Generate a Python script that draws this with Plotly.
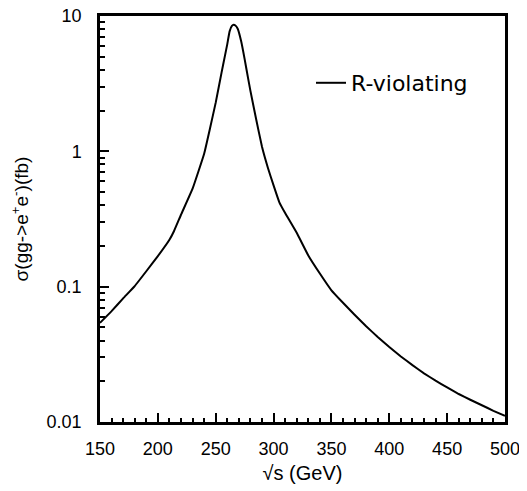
import plotly.graph_objects as go

sqrt_s = [150, 160, 170, 180, 190, 200, 210, 214, 220, 230, 240, 245, 250, 255, 258, 260, 262, 264,
          265.5, 267, 269, 272, 275, 278, 280, 285, 290, 295, 300, 305, 310, 320, 330, 340, 350, 360,
          370, 380, 390, 400, 410, 420, 430, 440, 450, 460, 470, 480, 490, 500]
sigma = [0.054, 0.066, 0.082, 0.101, 0.130, 0.168, 0.222, 0.258, 0.34, 0.53, 0.96, 1.47, 2.29, 3.8,
         5.1, 6.2, 7.7, 8.45, 8.6, 8.5, 8.05, 6.5, 4.8, 3.46, 2.8, 1.72, 1.08, 0.76, 0.56, 0.42, 0.35,
         0.25, 0.17, 0.125, 0.094, 0.076, 0.062, 0.051, 0.0425, 0.0358, 0.0305, 0.0263, 0.0229,
         0.0202, 0.0180, 0.0161, 0.0146, 0.0133, 0.0121, 0.0111]

x_ticks = [150, 200, 250, 300, 350, 400, 450, 500]
y_ticks = [0.01, 0.1, 1, 10]
y_ticktext = ["0.01", "0.1", "1", "10"]
series_name = "R-violating"

fig = go.Figure()
fig.add_trace(go.Scatter(x=sqrt_s, y=sigma, mode="lines", name=series_name,
                         line=dict(color="black", width=2, shape="spline", smoothing=0.3)))

tickfont = dict(family="Liberation Sans, Arial, sans-serif", size=18, color="black")

fig.update_layout(
    width=527, height=491,
    margin=dict(l=92, r=30, t=8, b=77),
    paper_bgcolor="white", plot_bgcolor="white",
    showlegend=True,
    legend=dict(x=0.521, y=0.835, xanchor="left", yanchor="middle",
                bgcolor="rgba(0,0,0,0)", itemwidth=30,
                font=dict(family="DejaVu Sans, sans-serif", size=22, color="black")),
    xaxis=dict(range=[150, 500], tickvals=x_ticks, ticks="inside", ticklen=9, tickwidth=1.5,
               tickcolor="black", showline=True, linecolor="black", linewidth=2.5, mirror=True,
               showgrid=False, zeroline=False, tickfont=tickfont, ticklabelstandoff=9,
               automargin=False, ticklabeloverflow="allow",
               minor=dict(dtick=10, ticks="inside", ticklen=4, tickcolor="black", showgrid=False),
               title=dict(text="√s (GeV)", standoff=8,
                          font=dict(family="Liberation Sans, Arial, sans-serif", size=20, color="black"))),
    yaxis=dict(type="log", range=[-2, 1], tickvals=y_ticks, ticktext=y_ticktext, ticks="inside",
               ticklen=9, tickwidth=1.5, tickcolor="black", showline=True, linecolor="black",
               linewidth=2.5, mirror=True, showgrid=False, zeroline=False, tickfont=tickfont,
               ticklabelstandoff=12, automargin=False, ticklabeloverflow="allow",
               minor=dict(dtick="D1", ticks="inside", ticklen=5, tickcolor="black", showgrid=False),
               title=dict(text="σ(gg->e<sup>+</sup>e<sup>-</sup>)(fb)", standoff=14,
                          font=dict(family="Liberation Sans, Arial, sans-serif", size=19, color="black"))),
)

fig.write_html("out.html")
